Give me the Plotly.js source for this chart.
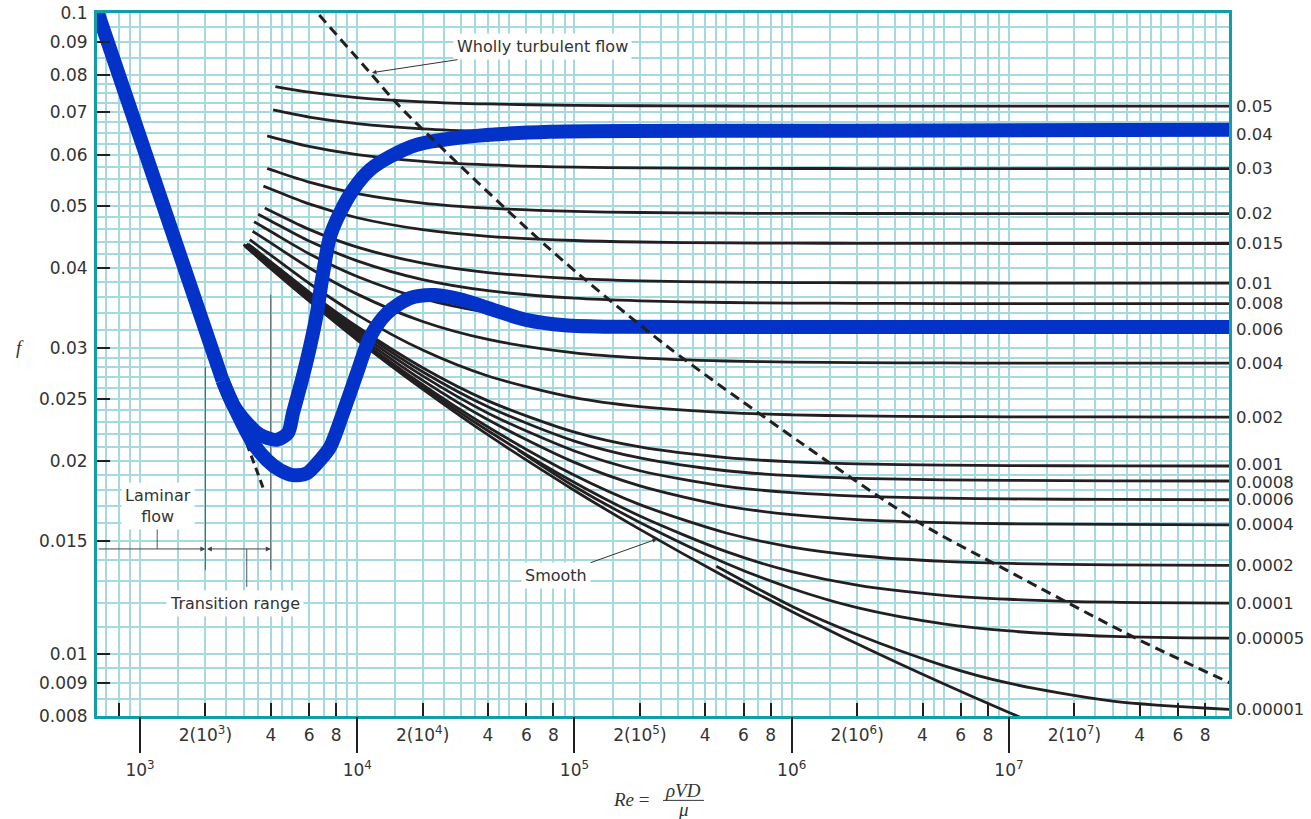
<!DOCTYPE html>
<html><head><meta charset="utf-8">
<script src="https://cdn.plot.ly/plotly-3.0.1.min.js"></script>
<style>html,body{margin:0;padding:0;background:#fff;}#chart{width:1311px;height:819px;}</style>
</head><body><div id="chart"></div>
<script>
// ---------- Reynolds-number grid used by the roughness curves ----------
const RE_GRID = [4000, 6000, 1e4, 2e4, 4e4, 1e5, 2e5, 5e5, 1e6, 2e6, 5e6, 1e7, 3e7, 1.05e8];

// relative roughness labels (right side)
const ROUGHNESS_LABELS = ['0.05','0.04','0.03','0.02','0.015','0.01','0.008','0.006','0.004','0.002','0.001','0.0008','0.0006','0.0004','0.0002','0.0001','0.00005','0.00001'];
// first point of each curve (left start)
const START_RE = [4200, 4100, 3850, 3850, 3700, 3750, 3500, 3350, 3300, 3200, 3150, 3100, 3100, 3050, 3050, 3050, 55000, 450000];
const START_F  = [0.07678, 0.07058, 0.06429, 0.0572, 0.05369, 0.04961, 0.04852, 0.04723, 0.04566, 0.04428, 0.04361, 0.04364, 0.04347, 0.04349, 0.0433, 0.04324, 0.0208, 0.0137];

// friction factor read along RE_GRID for each roughness curve
const f_0_05    = [null, 0.07525, 0.0738, 0.07269, 0.07212, 0.07178, 0.07166, 0.0716, 0.07157, 0.07156, 0.07155, 0.07155, 0.07155, 0.07155];
const f_0_04    = [null, 0.0688, 0.0672, 0.06595, 0.06532, 0.06493, 0.0648, 0.06473, 0.0647, 0.06469, 0.06468, 0.06467, 0.06467, 0.06467];
const f_0_03    = [0.06408, 0.06193, 0.06011, 0.05867, 0.05793, 0.05748, 0.05733, 0.05723, 0.0572, 0.05719, 0.05718, 0.05718, 0.05718, 0.05718];
const f_0_02    = [0.05696, 0.05446, 0.05227, 0.05052, 0.0496, 0.04902, 0.04883, 0.04871, 0.04868, 0.04866, 0.04865, 0.04864, 0.04864, 0.04864];
const f_0_015   = [0.05314, 0.05036, 0.04792, 0.04591, 0.04483, 0.04416, 0.04392, 0.04378, 0.04374, 0.04371, 0.0437, 0.04369, 0.04369, 0.04369];
const f_0_01    = [0.04909, 0.04596, 0.04312, 0.04071, 0.03936, 0.03851, 0.03821, 0.03802, 0.03797, 0.03794, 0.03791, 0.0379, 0.0379, 0.0379];
const f_0_008   = [0.04738, 0.04408, 0.04105, 0.03837, 0.03687, 0.03589, 0.03555, 0.03534, 0.03527, 0.03524, 0.03521, 0.0352, 0.0352, 0.0352];
const f_0_006   = [0.04561, 0.04212, 0.03881, 0.03583, 0.0341, 0.03295, 0.03254, 0.03229, 0.0322, 0.03216, 0.03214, 0.03213, 0.03212, 0.03212];
const f_0_004   = [0.04378, 0.04005, 0.03642, 0.03301, 0.03095, 0.0295, 0.02897, 0.02864, 0.02853, 0.02847, 0.02844, 0.02843, 0.02842, 0.02842];
const f_0_002   = [0.04189, 0.03787, 0.03381, 0.02979, 0.02714, 0.02511, 0.02431, 0.02379, 0.02361, 0.02351, 0.02346, 0.02344, 0.02343, 0.02342];
const f_0_001   = [0.04091, 0.0367, 0.03239, 0.02796, 0.02482, 0.02218, 0.02103, 0.02024, 0.01994, 0.01979, 0.0197, 0.01967, 0.01965, 0.01964];
const f_0_0008  = [0.04072, 0.03647, 0.03212, 0.02756, 0.0243, 0.02148, 0.02022, 0.01931, 0.01897, 0.01879, 0.01869, 0.01865, 0.01862, 0.01861];
const f_0_0006  = [0.04052, 0.03623, 0.0318, 0.02715, 0.02375, 0.02073, 0.01931, 0.01825, 0.01785, 0.01763, 0.0175, 0.01745, 0.01742, 0.0174];
const f_0_0004  = [0.04031, 0.03598, 0.0315, 0.02672, 0.02319, 0.0199, 0.01829, 0.01701, 0.01649, 0.0162, 0.01602, 0.01596, 0.01592, 0.0159];
const f_0_0002  = [0.0401, 0.03575, 0.03119, 0.02631, 0.0226, 0.019, 0.0171, 0.01544, 0.01468, 0.01424, 0.01394, 0.01384, 0.01377, 0.01374];
const f_0_0001  = [0.04001, 0.03563, 0.03105, 0.0261, 0.02229, 0.01851, 0.01641, 0.01444, 0.01344, 0.0128, 0.01234, 0.01217, 0.01204, 0.012];
const f_0_00005 = [null, null, null, null, null, 0.01825, 0.01604, 0.01384, 0.01265, 0.01181, 0.01114, 0.01086, 0.01065, 0.01058];
const f_0_00001 = [null, null, null, null, null, null, null, null, 0.01187, 0.01072, 0.00959, 0.009, 0.00844, 0.00819];
const ROUGH_F = [f_0_05, f_0_04, f_0_03, f_0_02, f_0_015, f_0_01, f_0_008, f_0_006, f_0_004, f_0_002, f_0_001, f_0_0008, f_0_0006, f_0_0004, f_0_0002, f_0_0001, f_0_00005, f_0_00001];
// small vertical nudges (px) so tightly packed right-hand labels do not collide
const LABEL_NUDGE = [0, 0, 0, 0, 0, 0, 0, 0, 0, 0, 2, -1, 0, 0, 0, 0, 0, 0];

// smooth pipe
const smoothRe = [3000, 4000, 6000, 1e4, 2e4, 4e4, 1e5, 2e5, 5e5, 1e6, 2e6, 5e6, 1e7, 1.2e7];
const smoothF  = [0.04354, 0.03989, 0.03553, 0.03088, 0.02589, 0.02196, 0.01799, 0.01564, 0.01316, 0.01165, 0.01037, 0.00898, 0.0081, 0.00789];

// wholly turbulent boundary (dashed)
const turbRe = [6000, 6597, 11450, 15730, 74700, 266600, 1.091e6, 3.77e6, 9.79e6, 4.01e7, 1.05e8];
const turbF  = [0.1036, 0.0998, 0.0807, 0.0714, 0.0432, 0.0302, 0.0214, 0.0161, 0.0135, 0.0105, 0.0090];

// laminar (blue) and its dashed continuation
const laminarRe = [620, 2400];
const laminarF  = [0.1032, 0.0267];
const lamExtRe = [3100, 3700];
const lamExtF  = [0.0213, 0.0181];

// highlighted (blue) transition curves
const blueA_Re = [2400, 2680, 3108, 3567, 4272, 4800, 5062, 5568, 6062, 6526, 6882, 7492, 8329, 9560, 11450, 14150, 18840, 32000, 77140, 1.854e6, 1.05e8];
const blueA_F  = [0.0267, 0.0245, 0.02293, 0.02197, 0.02158, 0.02213, 0.02377, 0.02677, 0.03014, 0.03405, 0.03835, 0.04475, 0.04879, 0.05297, 0.05692, 0.05967, 0.06229, 0.0641, 0.06527, 0.06551, 0.06574];
const blueB_Re = [2400, 2680, 3312, 3842, 4410, 5062, 5871, 6738, 7492, 8600, 9973, 11450, 13710, 17490, 22800, 30680, 42000, 60000, 90000, 160000, 1.09e6, 1.05e8];
const blueB_F  = [0.0267, 0.0245, 0.02132, 0.02006, 0.01935, 0.01901, 0.01914, 0.02006, 0.02101, 0.02375, 0.02742, 0.0312, 0.03401, 0.03591, 0.03631, 0.03566, 0.03445, 0.03320, 0.03257, 0.03238, 0.03236, 0.03236];

// transition-range guide lines
const guide2000Re = [2000, 2000], guide2000F = [0.02805, 0.01352];
const guide4000Re = [4000, 4000], guide4000F = [0.03634, 0.01352];
const guideMidRe  = [3100, 3100], guideMidF  = [0.01458, 0.01272];
const guideLamRe  = [1200, 1200], guideLamF  = [0.01458, 0.0160];
const ARROW_F = 0.01458;

// axis ticks
const X_TICK_VALS = [800, 2000, 4000, 6000, 8000, 2e4, 4e4, 6e4, 8e4, 2e5, 4e5, 6e5, 8e5, 2e6, 4e6, 6e6, 8e6, 2e7, 4e7, 6e7, 8e7];
const X_TICK_TEXT = ['', '2(10<sup>3</sup>)', '4', '6', '8', '2(10<sup>4</sup>)', '4', '6', '8', '2(10<sup>5</sup>)', '4', '6', '8', '2(10<sup>6</sup>)', '4', '6', '8', '2(10<sup>7</sup>)', '4', '6', '8'];
const X_DECADE_VALS = [1e3, 1e4, 1e5, 1e6, 1e7];
const X_DECADE_TEXT = ['10<sup>3</sup>', '10<sup>4</sup>', '10<sup>5</sup>', '10<sup>6</sup>', '10<sup>7</sup>'];
const X_GRID_MANTISSA = [1, 1.5, 2, 2.5, 3, 3.5, 4, 4.5, 5, 6, 7, 8, 9];
const X_GRID_DECADES = [100, 1e3, 1e4, 1e5, 1e6, 1e7];
const Y_TICK_VALS = [0.008, 0.009, 0.01, 0.015, 0.02, 0.025, 0.03, 0.04, 0.05, 0.06, 0.07, 0.08, 0.09, 0.1];
const Y_TICK_TEXT = ['0.008', '0.009', '0.01', '0.015', '0.02', '0.025', '0.03', '0.04', '0.05', '0.06', '0.07', '0.08', '0.09', '0.1'];
const Y_GRID = [0.008, 0.0085, 0.009, 0.0095, 0.01, 0.011, 0.012, 0.013, 0.014, 0.015, 0.016, 0.017, 0.018, 0.019, 0.02,
  0.021, 0.022, 0.023, 0.024, 0.025, 0.026, 0.027, 0.028, 0.029, 0.03, 0.032, 0.034, 0.036, 0.038, 0.04, 0.042, 0.044, 0.046, 0.048,
  0.05, 0.0525, 0.055, 0.0575, 0.06, 0.0625, 0.065, 0.0675, 0.07, 0.0725, 0.075, 0.0775, 0.08, 0.085, 0.09, 0.095, 0.1];

// ---------- build ----------
const BLACK = '#231f20', BLUE = '#0232c8', GRID = '#a6d9de', FRAME = '#129ea8', TXT = '#333333';
const X_GRID = [];
X_GRID_DECADES.forEach(d => X_GRID_MANTISSA.forEach(m => X_GRID.push(m * d)));
const X_RANGE = [Math.log10(634), Math.log10(1.03e8)];
const Y_RANGE = [Math.log10(0.008), -1];

const traces = [];
const lineT = (x, y, color, width, extra) => Object.assign({
  x: x, y: y, type: 'scatter', mode: 'lines', hoverinfo: 'skip', showlegend: false,
  line: {color: color, width: width, shape: 'spline', smoothing: 0.8}
}, extra || {});

ROUGH_F.forEach((arr, i) => {
  const x = [START_RE[i]], y = [START_F[i]];
  arr.forEach((v, j) => { if (v !== null && RE_GRID[j] > START_RE[i]) { x.push(RE_GRID[j]); y.push(v); } });
  traces.push(lineT(x, y, BLACK, 2.8));
});
traces.push(lineT(smoothRe, smoothF, BLACK, 2.8));
traces.push(lineT(lamExtRe, lamExtF, BLACK, 3, {line: {color: BLACK, width: 3, dash: '8px,5px'}}));
[[guide2000Re, guide2000F], [guide4000Re, guide4000F], [guideMidRe, guideMidF], [guideLamRe, guideLamF]].forEach(g => {
  traces.push(lineT(g[0], g[1], '#555', 1, {line: {color: '#555555', width: 1}}));
});
traces.push(lineT(laminarRe, laminarF, BLUE, 14, {line: {color: BLUE, width: 14}}));
traces.push(lineT(blueA_Re, blueA_F, BLUE, 14));
traces.push(lineT(blueB_Re, blueB_F, BLUE, 14));
// dashed wholly-turbulent line on overlay axis (also carries the decade ticks)
traces.push(lineT(turbRe, turbF, BLACK, 3, {xaxis: 'x2', line: {color: BLACK, width: 3, dash: '10px,6px', shape: 'spline', smoothing: 0.8}}));

const tickFont = {family: 'DejaVu Sans', size: 17, color: TXT};
const rightFont = {family: 'DejaVu Sans', size: 16.5, color: TXT};
const annFont = {family: 'DejaVu Sans', size: 16, color: TXT};
const annotations = [];
ROUGH_F.forEach((arr, i) => {
  const last = arr[arr.length - 1];
  annotations.push({xref: 'paper', yref: 'y', x: 1, y: Math.log10(last), xanchor: 'left', yanchor: 'middle', xshift: 6, yshift: LABEL_NUDGE[i],
    text: ROUGHNESS_LABELS[i], showarrow: false, font: rightFont, borderpad: 0});
});
annotations.push({xref: 'x', yref: 'y', x: Math.log10(11690), y: Math.log10(0.0807), text: 'Wholly turbulent flow',
  showarrow: true, ax: 171, ay: -26, arrowhead: 2, arrowsize: 0.9, arrowwidth: 1, arrowcolor: '#333', bgcolor: 'white', borderpad: 3, font: annFont});
annotations.push({xref: 'x', yref: 'y', x: Math.log10(2.398e5), y: Math.log10(0.01511), text: 'Smooth',
  showarrow: true, ax: -101, ay: 36, arrowhead: 2, arrowsize: 0.9, arrowwidth: 1, arrowcolor: '#333', bgcolor: 'white', borderpad: 3, font: annFont});
annotations.push({xref: 'x', yref: 'y', x: Math.log10(1210), y: Math.log10(0.01702), text: 'Laminar<br>flow',
  showarrow: false, bgcolor: 'white', borderpad: 3, font: annFont});
annotations.push({xref: 'x', yref: 'y', x: Math.log10(2735), y: Math.log10(0.012), text: 'Transition range',
  showarrow: false, bgcolor: 'white', borderpad: 3, font: annFont});
annotations.push({xref: 'x', yref: 'y', axref: 'x', ayref: 'y', x: Math.log10(2000), y: Math.log10(ARROW_F),
  ax: X_RANGE[0], ay: Math.log10(ARROW_F), text: '', showarrow: true, arrowhead: 2, arrowsize: 1, arrowwidth: 1, arrowcolor: '#444'});
annotations.push({xref: 'x', yref: 'y', axref: 'x', ayref: 'y', x: Math.log10(4000), y: Math.log10(ARROW_F),
  ax: Math.log10(2000), ay: Math.log10(ARROW_F), text: '', showarrow: true, arrowside: 'end+start', arrowhead: 2, arrowsize: 1, arrowwidth: 1, arrowcolor: '#444'});
// axis titles
const serif = {family: 'Liberation Serif', size: 19, color: TXT};
const ctr = {xanchor: 'center', yanchor: 'middle', showarrow: false, font: serif, xref: 'paper', yref: 'paper'};
annotations.push(Object.assign({x: -0.0680, y: 0.5237, text: '<i>f</i>'}, ctr));
annotations.push(Object.assign({x: 0.4726, y: -0.1190, text: '<i>Re</i> ='}, ctr));
annotations.push(Object.assign({x: 0.5181, y: -0.1060, text: '<i>ρVD</i>'}, ctr));
annotations.push(Object.assign({x: 0.5181, y: -0.1335, text: '<i>μ</i>'}, ctr));

const layout = {
  width: 1311, height: 819,
  margin: {l: 97, r: 82, t: 13, b: 103, pad: 0},
  paper_bgcolor: 'white', plot_bgcolor: 'white', showlegend: false, hovermode: false,
  font: {family: 'DejaVu Sans', color: TXT},
  xaxis: {
    type: 'log', range: X_RANGE, autorange: false, tickmode: 'array', tickvals: X_TICK_VALS, ticktext: X_TICK_TEXT,
    ticks: 'inside', ticklen: 13, tickwidth: 2, tickcolor: BLACK, tickfont: tickFont, ticklabelstandoff: 2,
    showline: true, linecolor: FRAME, linewidth: 3, mirror: true, zeroline: false,
    showgrid: true, gridcolor: GRID, gridwidth: 2,
    minor: {tickmode: 'array', tickvals: X_GRID, ticks: '', showgrid: true, gridcolor: GRID, gridwidth: 2}
  },
  xaxis2: {
    type: 'log', range: X_RANGE, autorange: false, overlaying: 'x', anchor: 'y', side: 'bottom',
    tickmode: 'array', tickvals: X_DECADE_VALS, ticktext: X_DECADE_TEXT,
    ticks: 'outside', ticklen: 36, tickwidth: 2, tickcolor: BLACK, tickfont: tickFont, ticklabelstandoff: 3,
    showgrid: false, showline: false, zeroline: false
  },
  yaxis: {
    type: 'log', range: Y_RANGE, autorange: false, tickmode: 'array', tickvals: Y_TICK_VALS, ticktext: Y_TICK_TEXT,
    ticks: 'inside', ticklen: 13, tickwidth: 2, tickcolor: BLACK, tickfont: tickFont, ticklabelstandoff: 3,
    showline: true, linecolor: FRAME, linewidth: 3, mirror: true, zeroline: false,
    showgrid: true, gridcolor: GRID, gridwidth: 2,
    minor: {tickmode: 'array', tickvals: Y_GRID, ticks: '', showgrid: true, gridcolor: GRID, gridwidth: 2}
  },
  annotations: annotations,
  shapes: [{type: 'line', xref: 'paper', yref: 'paper', x0: 0.5, x1: 0.5362, y0: -0.1200, y1: -0.1200, line: {color: TXT, width: 1}}]
};

Plotly.newPlot('chart', traces, layout, {displayModeBar: false, staticPlot: true});
</script></body></html>
